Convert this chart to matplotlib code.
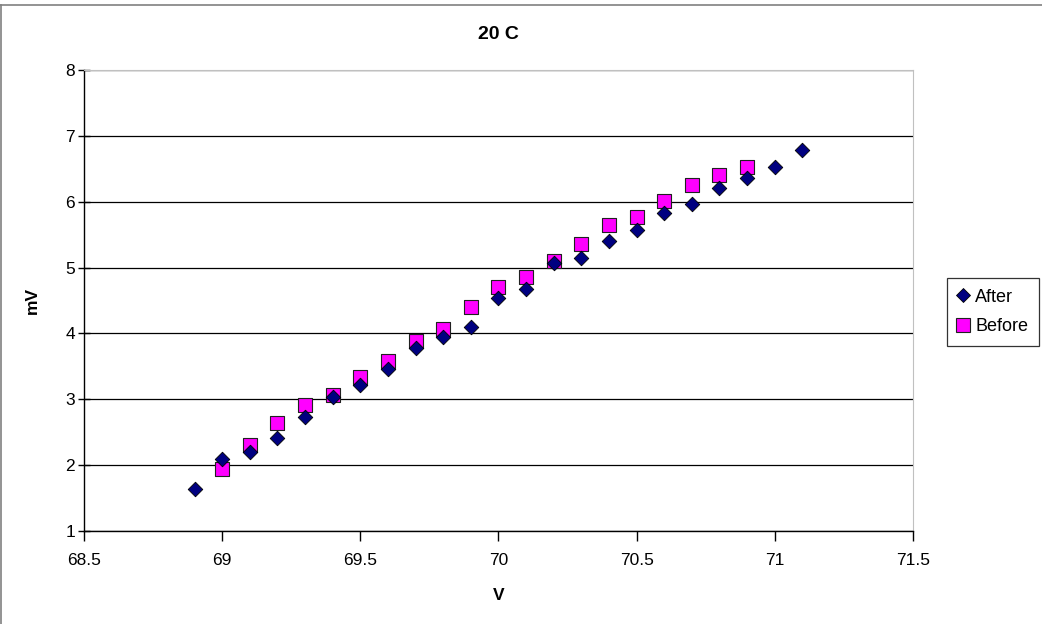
import matplotlib
matplotlib.use("Agg")
import matplotlib.pyplot as plt
from matplotlib.lines import Line2D

plt.rcParams["font.family"] = ["Liberation Sans", "DejaVu Sans"]

after_v = [68.9, 69.0, 69.1, 69.2, 69.3, 69.4, 69.5, 69.6, 69.7, 69.8, 69.9, 70.0,
           70.1, 70.2, 70.3, 70.4, 70.5, 70.6, 70.7, 70.8, 70.9, 71.0, 71.1]
after_mv = [1.64, 2.10, 2.20, 2.41, 2.73, 3.04, 3.22, 3.46, 3.78, 3.95, 4.10, 4.53,
            4.68, 5.07, 5.15, 5.41, 5.57, 5.82, 5.97, 6.21, 6.36, 6.53, 6.78]

before_v = [69.0, 69.1, 69.2, 69.3, 69.4, 69.5, 69.6, 69.7, 69.8, 69.9, 70.0,
            70.1, 70.2, 70.3, 70.4, 70.5, 70.6, 70.7, 70.8, 70.9]
before_mv = [1.94, 2.31, 2.64, 2.91, 3.07, 3.34, 3.58, 3.89, 4.07, 4.40, 4.71,
             4.85, 5.10, 5.36, 5.64, 5.76, 6.01, 6.26, 6.41, 6.53]

x_ticks = [68.5, 69, 69.5, 70, 70.5, 71, 71.5]
x_labels = ["68.5", "69", "69.5", "70", "70.5", "71", "71.5"]
y_ticks = [1, 2, 3, 4, 5, 6, 7, 8]

fig = plt.figure(figsize=(10.42, 6.24), dpi=100)
ax = fig.add_axes([0.0806, 0.149, 0.7955, 0.739])

ax.scatter(before_v, before_mv, marker="s", s=95, color="#FF00FF",
           edgecolors="#202020", linewidths=0.8, zorder=3, label="Before")
ax.scatter(after_v, after_mv, marker="D", s=55, color="#000080",
           edgecolors="#000000", linewidths=0.6, zorder=4, label="After")

ax.set_xlim(68.5, 71.5)
ax.set_ylim(1, 8)
ax.set_xticks(x_ticks)
ax.set_xticklabels(x_labels)
ax.set_yticks(y_ticks)
ax.yaxis.grid(True, color="#000000", linewidth=0.9)
ax.set_axisbelow(True)

for side in ("top", "right"):
    ax.spines[side].set_color("#c0c0c0")
for side in ("left", "bottom"):
    ax.spines[side].set_color("#000000")
    ax.spines[side].set_linewidth(1.0)
ax.tick_params(axis="x", direction="out", length=7, width=1, labelsize=12.5,
               colors="#000000", pad=9)
ax.tick_params(axis="y", direction="inout", length=9, width=1, labelsize=12.5,
               colors="#000000", pad=2)

ax.set_title("20 C", fontsize=14, fontweight="bold", pad=22)
ax.set_xlabel("V", fontsize=12.5, fontweight="bold", labelpad=14)
ax.set_ylabel("mV", fontsize=12.5, fontweight="bold", labelpad=18)

handles = [
    Line2D([], [], marker="D", linestyle="none", markersize=7, markerfacecolor="#000080",
           markeredgecolor="#000000", markeredgewidth=0.6, label="After"),
    Line2D([], [], marker="s", linestyle="none", markersize=9.5, markerfacecolor="#FF00FF",
           markeredgecolor="#202020", markeredgewidth=0.8, label="Before"),
]
leg = fig.legend(handles=handles, loc="center left", bbox_to_anchor=(0.909, 0.5),
                 frameon=True, fancybox=False, edgecolor="#000000", fontsize=13,
                 handlelength=0.6, handletextpad=0.35, borderpad=0.6,
                 labelspacing=0.7, borderaxespad=0)
leg.get_frame().set_linewidth(0.9)

# outer chart border (top and left edges visible)
fig.add_artist(Line2D([0, 1], [1 - 5 / 624, 1 - 5 / 624], transform=fig.transFigure,
                      color="#808080", linewidth=1.2))
fig.add_artist(Line2D([0.0008, 0.0008], [0, 1 - 5 / 624], transform=fig.transFigure,
                      color="#808080", linewidth=1.2))

fig.savefig("out.png", dpi=100)
